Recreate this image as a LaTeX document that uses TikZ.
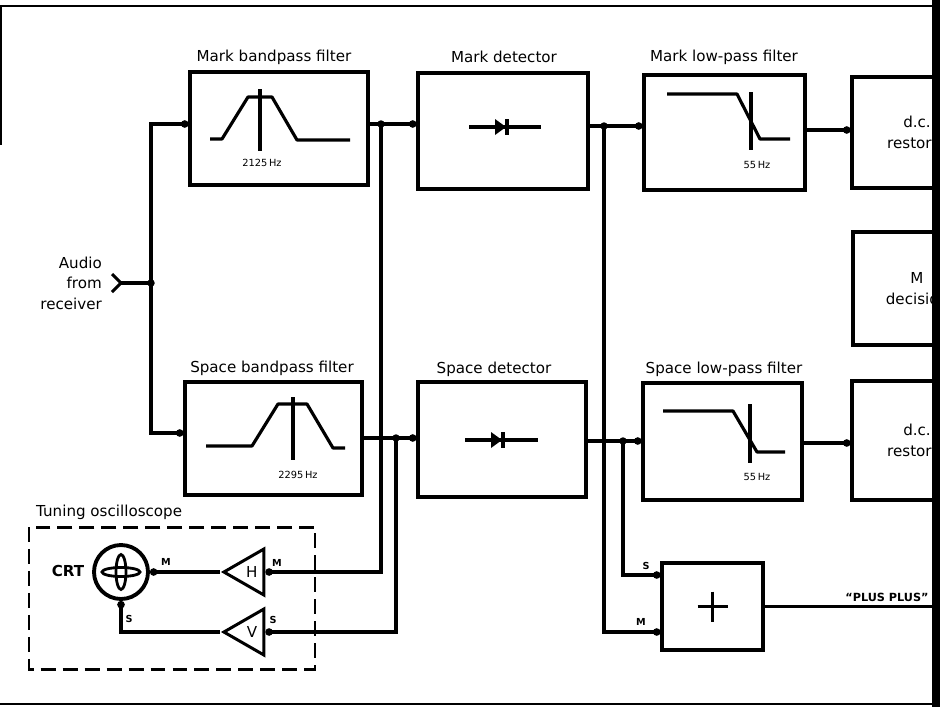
\documentclass[tikz,border=0pt]{standalone}
\usepackage{fontspec}
\setmainfont{DejaVu Sans}
\usetikzlibrary{arrows.meta,shapes.geometric}
\begin{document}
\begin{tikzpicture}[x=0.02cm,y=-0.02cm,
    blk/.style={draw,line width=1.8pt,inner sep=0pt},
    ttl/.style={font=\fontsize{8.6}{11.6}\selectfont},
    lab/.style={font=\fontsize{5.5}{6}\selectfont\bfseries,inner sep=0pt},
    freq/.style={font=\fontsize{5.6}{6}\selectfont,inner sep=0pt},
    wire/.style={line width=1.8pt},
    sig/.style={line width=1.8pt,-{Circle[length=4.2pt]}},
    resp/.style={line width=1.8pt,line join=round},
    amp/.style={draw,line width=1.7pt,isosceles triangle,isosceles triangle stretches,
      shape border rotate=180,minimum width=0.92cm,minimum height=0.8cm,inner sep=0pt,
      font=\fontsize{8.6}{9}\selectfont}]
  \useasboundingbox (0,0) rectangle (940,707);
  \clip (0,0) rectangle (940,707);
  % frame of the scan
  \draw[line width=1.1pt] (0,6) -- (940,6);
  \draw[line width=1.1pt] (0,704) -- (940,704);
  \draw[line width=1.3pt] (1,6) -- (1,145);
  % blocks
  \node[blk,minimum width=3.56cm,minimum height=2.26cm] (mbp) at (279,128.5) {};
  \node[blk,minimum width=3.40cm,minimum height=2.32cm] (mdet) at (503,131) {};
  \node[blk,minimum width=3.22cm,minimum height=2.30cm] (mlp) at (724.5,132.5) {};
  \node[blk,ttl,align=center,minimum width=2.60cm,minimum height=2.22cm] (mdc) at (917,132.5) {d.c.\\restorer};
  \node[blk,ttl,align=center,minimum width=2.56cm,minimum height=2.26cm] (dec) at (917,288.5) {M\\decision};
  \node[blk,minimum width=3.54cm,minimum height=2.26cm] (sbp) at (273.5,438.5) {};
  \node[blk,minimum width=3.36cm,minimum height=2.30cm] (sdet) at (502,439.5) {};
  \node[blk,minimum width=3.18cm,minimum height=2.34cm] (slp) at (722.5,441.5) {};
  \node[blk,ttl,align=center,minimum width=2.60cm,minimum height=2.38cm] (sdc) at (917,440.5) {d.c.\\restorer};
  \node[blk,minimum width=2.02cm,minimum height=1.74cm] (plus) at (712.5,606.5) {};
  % titles
  \node[ttl] (mbpt) at (274,57) {Mark bandpass filter};
  \node[ttl] (mdett) at (504,57) {Mark detector};
  \node[ttl] (mlpt) at (724,57) {Mark low-pass filter};
  \node[ttl] (sbpt) at (272,368) {Space bandpass filter};
  \node[ttl] (sdett) at (494,369) {Space detector};
  \node[ttl] (slpt) at (724,369) {Space low-pass filter};
  % responses
  \draw[resp] (210,139) -- (222,139) -- (248,97) -- (272,97) -- (297,140) -- (350,140);
  \draw[wire] (260,89) -- (260,151);
  \node[freq] (mbpf) at (262,163) {2125\,Hz};
  \draw[resp] (206,446) -- (252,446) -- (278,404) -- (307,404) -- (333,448) -- (345,448);
  \draw[wire] (293,397) -- (293,460);
  \node[freq] (sbpf) at (298,475) {2295\,Hz};
  \draw[resp] (667,94) -- (737,94) -- (760,139) -- (790,139);
  \draw[wire] (751,92) -- (751,150);
  \node[freq] (mlpf) at (757,165) {55\,Hz};
  \draw[resp] (663,411) -- (733,411) -- (757,452) -- (785,452);
  \draw[wire] (750,404) -- (750,463);
  \node[freq] (slpf) at (757,477) {55\,Hz};
  % diodes
  \draw[wire] (469,127) -- (541,127);
  \fill (495,119) -- (495,135) -- (506,127) -- cycle;
  \draw[wire] (507,119) -- (507,135);
  \draw[wire] (465,440) -- (538,440);
  \fill (491,432) -- (491,448) -- (502,440) -- cycle;
  \draw[wire] (503,432) -- (503,448);
  % input
  \node[ttl,align=right,anchor=east] (audiot) at (108,283) {Audio\\from\\receiver};
  \coordinate (audio) at (121,283);
  \coordinate (jin) at (151,283);
  \coordinate (jm1) at (381,124);
  \coordinate (js1) at (396,438);
  \coordinate (jm2) at (604,126);
  \coordinate (js2) at (623,441);
  \coordinate (pp) at (940,606);
  \draw[wire,line join=round] (112,274) -- (audio) -- (112,292);
  \draw[wire] (audio) -- (jin);
  \draw[sig] (jin) |- (mbp.west |- jm1);
  \draw[sig] (jin) |- (sbp.west |- 0,433);
  \draw[sig] (mbp.east |- jm1) -- (mdet.west |- jm1);
  \draw[sig] (mdet.east |- jm2) -- (mlp.west |- jm2);
  \draw[sig] (mlp.east |- 0,130) -- (mdc.west |- 0,130);
  \draw[sig] (sbp.east |- js1) -- (sdet.west |- js1);
  \draw[sig] (sdet.east |- js2) -- (slp.west |- js2);
  \draw[sig] (slp.east |- 0,443) -- (sdc.west |- 0,443);
  % tuning oscilloscope
  \draw[line width=1.7pt,dash pattern=on 8.5pt off 4pt] (29,527) rectangle (315,669);
  \node[ttl,anchor=west] (tunt) at (30,512) {Tuning oscilloscope};
  \node[draw,circle,line width=2.2pt,minimum size=1.08cm] (crt) at (121,572) {};
  \draw[line width=1.6pt] (crt.center) ellipse [x radius=0.38cm,y radius=0.09cm];
  \draw[line width=1.6pt] (crt.center) ellipse [x radius=0.1cm,y radius=0.35cm];
  \node[ttl,font=\fontsize{8.6}{9}\selectfont\bfseries] (crtl) at (68,571) {CRT};
  \node[amp,anchor=apex] (hamp) at (220,572) {H};
  \node[amp,anchor=apex] (vamp) at (220,632) {V};
  \draw[sig] (jm1) |- (hamp.lower side);
  \draw[sig] (js1) |- (vamp.lower side);
  \draw[sig] (hamp.apex) -- (crt.east);
  \draw[sig] (vamp.apex) -| (crt.south);
  \node[lab] (lm1) at (166,562) {M};
  \node[lab] (lm2) at (277,563) {M};
  \node[lab] (ls1) at (129,619) {S};
  \node[lab] (ls2) at (273,620) {S};
  % sum
  \draw[sig] (jm2) |- (plus.west |- 0,632);
  \draw[sig] (js2) |- (plus.west |- 0,575);
  \node[lab] (ls3) at (646,566) {S};
  \node[lab] (lm3) at (641,622) {M};
  \draw[line width=2.2pt] (plus.center) ++(-15,0) -- ++(30,0);
  \draw[line width=2.2pt] (plus.center) ++(0,-15) -- ++(0,30);
  \draw[wire] (plus.east) -- (plus.east -| pp);
  \node[lab,font=\fontsize{6.4}{7}\selectfont\bfseries] (ppl) at (887,597) {``PLUS PLUS''};
  % junctions
  \foreach \j in {jin,jm1,js1,jm2,js2}
    \fill (\j) circle (0.075cm);
  % cut edge of the scan
  \fill (932,0) rectangle (940,707);
\end{tikzpicture}
\end{document}
